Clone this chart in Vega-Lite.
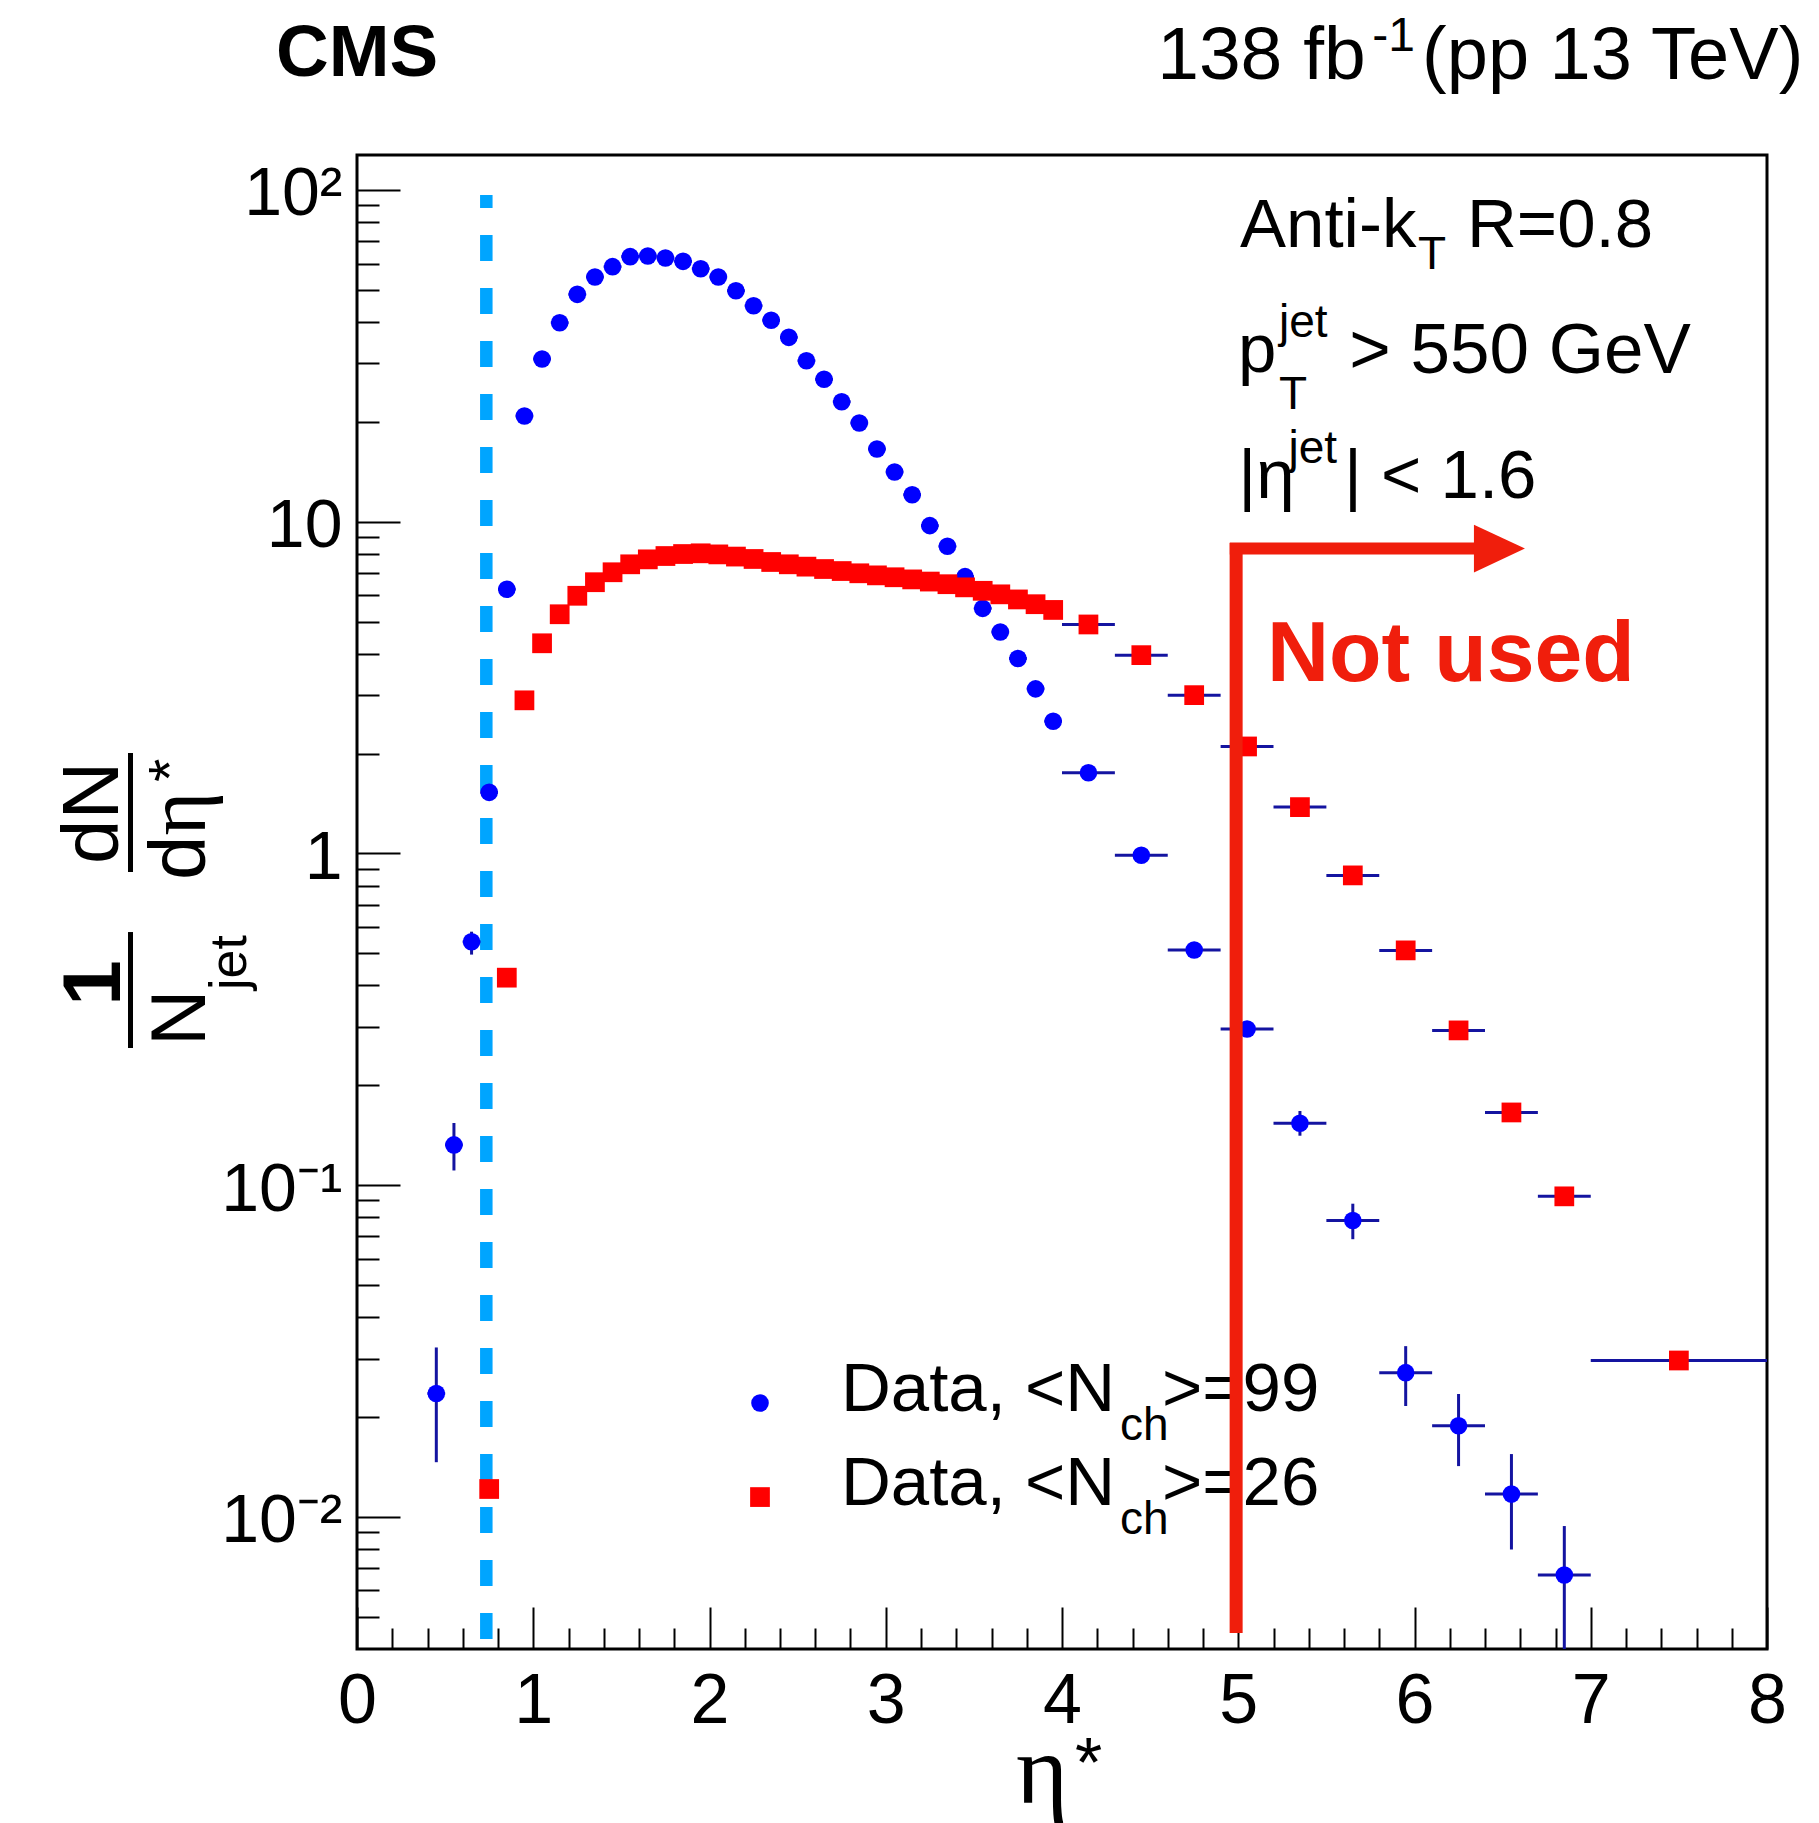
{
  "$schema": "https://vega.github.io/schema/vega-lite/v6.json",
  "width": 1410,
  "height": 1494,
  "autosize": {"type": "none"},
  "padding": {"left": 357, "top": 155, "right": 52, "bottom": 174},
  "background": "white",
  "config": {
    "view": {"stroke": "black", "strokeWidth": 3},
    "axis": {"domain": false, "grid": false, "tickColor": "black", "tickWidth": 2, "labelColor": "black", "labelFont": "Liberation Sans"}
  },
  "datasets": {
    "pts": [
      {"s": "n99", "x": 0.45, "xlo": 0.4, "xhi": 0.5, "y": 0.02355, "ylo": 0.01461, "yhi": 0.0324},
      {"s": "n99", "x": 0.55, "xlo": 0.5, "xhi": 0.6, "y": 0.1322, "ylo": 0.1107, "yhi": 0.1539},
      {"s": "n99", "x": 0.65, "xlo": 0.6, "xhi": 0.7, "y": 0.5415, "ylo": 0.4954, "yhi": 0.5808},
      {"s": "n99", "x": 0.75, "xlo": 0.7, "xhi": 0.8, "y": 1.528},
      {"s": "n99", "x": 0.85, "xlo": 0.8, "xhi": 0.9, "y": 6.26},
      {"s": "n99", "x": 0.95, "xlo": 0.9, "xhi": 1.0, "y": 20.83},
      {"s": "n99", "x": 1.05, "xlo": 1.0, "xhi": 1.1, "y": 30.94},
      {"s": "n99", "x": 1.15, "xlo": 1.1, "xhi": 1.2, "y": 39.81},
      {"s": "n99", "x": 1.25, "xlo": 1.2, "xhi": 1.3, "y": 48.47},
      {"s": "n99", "x": 1.35, "xlo": 1.3, "xhi": 1.4, "y": 54.66},
      {"s": "n99", "x": 1.45, "xlo": 1.4, "xhi": 1.5, "y": 58.73},
      {"s": "n99", "x": 1.55, "xlo": 1.5, "xhi": 1.6, "y": 62.95},
      {"s": "n99", "x": 1.65, "xlo": 1.6, "xhi": 1.7, "y": 63.24},
      {"s": "n99", "x": 1.75, "xlo": 1.7, "xhi": 1.8, "y": 62.37},
      {"s": "n99", "x": 1.85, "xlo": 1.8, "xhi": 1.9, "y": 60.95},
      {"s": "n99", "x": 1.95, "xlo": 1.9, "xhi": 2.0, "y": 57.91},
      {"s": "n99", "x": 2.05, "xlo": 2.0, "xhi": 2.1, "y": 54.66},
      {"s": "n99", "x": 2.15, "xlo": 2.1, "xhi": 2.2, "y": 49.7},
      {"s": "n99", "x": 2.25, "xlo": 2.2, "xhi": 2.3, "y": 44.78},
      {"s": "n99", "x": 2.35, "xlo": 2.3, "xhi": 2.4, "y": 40.47},
      {"s": "n99", "x": 2.45, "xlo": 2.4, "xhi": 2.5, "y": 35.96},
      {"s": "n99", "x": 2.55, "xlo": 2.5, "xhi": 2.6, "y": 30.58},
      {"s": "n99", "x": 2.65, "xlo": 2.6, "xhi": 2.7, "y": 26.87},
      {"s": "n99", "x": 2.75, "xlo": 2.7, "xhi": 2.8, "y": 23.0},
      {"s": "n99", "x": 2.85, "xlo": 2.8, "xhi": 2.9, "y": 19.84},
      {"s": "n99", "x": 2.95, "xlo": 2.9, "xhi": 3.0, "y": 16.56},
      {"s": "n99", "x": 3.05, "xlo": 3.0, "xhi": 3.1, "y": 14.12},
      {"s": "n99", "x": 3.15, "xlo": 3.1, "xhi": 3.2, "y": 12.06},
      {"s": "n99", "x": 3.25, "xlo": 3.2, "xhi": 3.3, "y": 9.73},
      {"s": "n99", "x": 3.35, "xlo": 3.3, "xhi": 3.4, "y": 8.43},
      {"s": "n99", "x": 3.45, "xlo": 3.4, "xhi": 3.5, "y": 6.83},
      {"s": "n99", "x": 3.55, "xlo": 3.5, "xhi": 3.6, "y": 5.48},
      {"s": "n99", "x": 3.65, "xlo": 3.6, "xhi": 3.7, "y": 4.65},
      {"s": "n99", "x": 3.75, "xlo": 3.7, "xhi": 3.8, "y": 3.87},
      {"s": "n99", "x": 3.85, "xlo": 3.8, "xhi": 3.9, "y": 3.134},
      {"s": "n99", "x": 3.95, "xlo": 3.9, "xhi": 4.0, "y": 2.504},
      {"s": "n99", "x": 4.15, "xlo": 4.0, "xhi": 4.3, "y": 1.751},
      {"s": "n99", "x": 4.45, "xlo": 4.3, "xhi": 4.6, "y": 0.987},
      {"s": "n99", "x": 4.75, "xlo": 4.6, "xhi": 4.9, "y": 0.5115},
      {"s": "n99", "x": 5.05, "xlo": 4.9, "xhi": 5.2, "y": 0.2955},
      {"s": "n99", "x": 5.35, "xlo": 5.2, "xhi": 5.5, "y": 0.1537, "ylo": 0.1409, "yhi": 0.1673},
      {"s": "n99", "x": 5.65, "xlo": 5.5, "xhi": 5.8, "y": 0.0782, "ylo": 0.0687, "yhi": 0.0879},
      {"s": "n99", "x": 5.95, "xlo": 5.8, "xhi": 6.1, "y": 0.0272, "ylo": 0.02158, "yhi": 0.0327},
      {"s": "n99", "x": 6.25, "xlo": 6.1, "xhi": 6.4, "y": 0.01882, "ylo": 0.01422, "yhi": 0.02346},
      {"s": "n99", "x": 6.55, "xlo": 6.4, "xhi": 6.7, "y": 0.01171, "ylo": 0.00797, "yhi": 0.01546},
      {"s": "n99", "x": 6.85, "xlo": 6.7, "xhi": 7.0, "y": 0.006678, "ylo": 0.003, "yhi": 0.00938},
      {"s": "n26", "x": 0.75, "xlo": 0.7, "xhi": 0.8, "y": 0.01213},
      {"s": "n26", "x": 0.85, "xlo": 0.8, "xhi": 0.9, "y": 0.4221},
      {"s": "n26", "x": 0.95, "xlo": 0.9, "xhi": 1.0, "y": 2.894},
      {"s": "n26", "x": 1.05, "xlo": 1.0, "xhi": 1.1, "y": 4.3},
      {"s": "n26", "x": 1.15, "xlo": 1.1, "xhi": 1.2, "y": 5.26},
      {"s": "n26", "x": 1.25, "xlo": 1.2, "xhi": 1.3, "y": 5.98},
      {"s": "n26", "x": 1.35, "xlo": 1.3, "xhi": 1.4, "y": 6.57},
      {"s": "n26", "x": 1.45, "xlo": 1.4, "xhi": 1.5, "y": 7.04},
      {"s": "n26", "x": 1.55, "xlo": 1.5, "xhi": 1.6, "y": 7.44},
      {"s": "n26", "x": 1.65, "xlo": 1.6, "xhi": 1.7, "y": 7.7},
      {"s": "n26", "x": 1.75, "xlo": 1.7, "xhi": 1.8, "y": 7.88},
      {"s": "n26", "x": 1.85, "xlo": 1.8, "xhi": 1.9, "y": 7.99},
      {"s": "n26", "x": 1.95, "xlo": 1.9, "xhi": 2.0, "y": 8.03},
      {"s": "n26", "x": 2.05, "xlo": 2.0, "xhi": 2.1, "y": 7.97},
      {"s": "n26", "x": 2.15, "xlo": 2.1, "xhi": 2.2, "y": 7.85},
      {"s": "n26", "x": 2.25, "xlo": 2.2, "xhi": 2.3, "y": 7.72},
      {"s": "n26", "x": 2.35, "xlo": 2.3, "xhi": 2.4, "y": 7.56},
      {"s": "n26", "x": 2.45, "xlo": 2.4, "xhi": 2.5, "y": 7.44},
      {"s": "n26", "x": 2.55, "xlo": 2.5, "xhi": 2.6, "y": 7.32},
      {"s": "n26", "x": 2.65, "xlo": 2.6, "xhi": 2.7, "y": 7.2},
      {"s": "n26", "x": 2.75, "xlo": 2.7, "xhi": 2.8, "y": 7.1},
      {"s": "n26", "x": 2.85, "xlo": 2.8, "xhi": 2.9, "y": 6.99},
      {"s": "n26", "x": 2.95, "xlo": 2.9, "xhi": 3.0, "y": 6.89},
      {"s": "n26", "x": 3.05, "xlo": 3.0, "xhi": 3.1, "y": 6.8},
      {"s": "n26", "x": 3.15, "xlo": 3.1, "xhi": 3.2, "y": 6.7},
      {"s": "n26", "x": 3.25, "xlo": 3.2, "xhi": 3.3, "y": 6.6},
      {"s": "n26", "x": 3.35, "xlo": 3.3, "xhi": 3.4, "y": 6.48},
      {"s": "n26", "x": 3.45, "xlo": 3.4, "xhi": 3.5, "y": 6.34},
      {"s": "n26", "x": 3.55, "xlo": 3.5, "xhi": 3.6, "y": 6.19},
      {"s": "n26", "x": 3.65, "xlo": 3.6, "xhi": 3.7, "y": 6.04},
      {"s": "n26", "x": 3.75, "xlo": 3.7, "xhi": 3.8, "y": 5.83},
      {"s": "n26", "x": 3.85, "xlo": 3.8, "xhi": 3.9, "y": 5.64},
      {"s": "n26", "x": 3.95, "xlo": 3.9, "xhi": 4.0, "y": 5.42},
      {"s": "n26", "x": 4.15, "xlo": 4.0, "xhi": 4.3, "y": 4.9},
      {"s": "n26", "x": 4.45, "xlo": 4.3, "xhi": 4.6, "y": 3.96},
      {"s": "n26", "x": 4.75, "xlo": 4.6, "xhi": 4.9, "y": 3.0},
      {"s": "n26", "x": 5.05, "xlo": 4.9, "xhi": 5.2, "y": 2.101},
      {"s": "n26", "x": 5.35, "xlo": 5.2, "xhi": 5.5, "y": 1.379},
      {"s": "n26", "x": 5.65, "xlo": 5.5, "xhi": 5.8, "y": 0.8585},
      {"s": "n26", "x": 5.95, "xlo": 5.8, "xhi": 6.1, "y": 0.5101},
      {"s": "n26", "x": 6.25, "xlo": 6.1, "xhi": 6.4, "y": 0.2927},
      {"s": "n26", "x": 6.55, "xlo": 6.4, "xhi": 6.7, "y": 0.1656},
      {"s": "n26", "x": 6.85, "xlo": 6.7, "xhi": 7.0, "y": 0.0925},
      {"s": "n26", "x": 7.5, "xlo": 7.0, "xhi": 8.0, "y": 0.0296}
    ]
  },
  "resolve": {"axis": {"x": "independent", "y": "independent"}},
  "layer": [
    {
      "data": {"values": [{}]},
      "mark": {"type": "rule", "color": "#00a5ff", "strokeWidth": 12.5, "strokeDash": [26, 27]},
      "encoding": {
        "x": {"datum": 0.7337, "type": "quantitative", "scale": {"domain": [0, 8], "nice": false, "zero": false}, "axis": null},
        "y": {"datum": 0.00428, "type": "quantitative", "scale": {"type": "log", "domain": [0.003995, 127.5], "nice": false}, "axis": null},
        "y2": {"datum": 96.6}
      }
    },
    {
      "data": {"name": "pts"},
      "mark": {"type": "rule", "color": "#1414a0", "strokeWidth": 3, "clip": true},
      "encoding": {
        "x": {"field": "xlo", "type": "quantitative", "axis": {"orient": "bottom", "title": null, "labels": false, "domain": false, "tickSize": -21, "values": [0.2,0.4,0.6,0.8,1.2,1.4,1.6,1.8,2.2,2.4,2.6,2.8,3.2,3.4,3.6,3.8,4.2,4.4,4.6,4.8,5.2,5.4,5.6,5.8,6.2,6.4,6.6,6.8,7.2,7.4,7.6,7.8]}},
        "x2": {"field": "xhi"},
        "y": {"field": "y", "type": "quantitative", "axis": {"orient": "left", "title": null, "labels": false, "domain": false, "tickSize": -22, "values": [0.005,0.006,0.007,0.008,0.009,0.02,0.03,0.04,0.05,0.06,0.07,0.08,0.09,0.2,0.3,0.4,0.5,0.6,0.7,0.8,0.9,2,3,4,5,6,7,8,9,20,30,40,50,60,70,80,90]}}
      }
    },
    {
      "data": {"name": "pts"},
      "transform": [{"filter": "isValid(datum.ylo)"}],
      "mark": {"type": "rule", "color": "#1414a0", "strokeWidth": 3, "clip": true},
      "encoding": {
        "x": {"field": "x", "type": "quantitative", "axis": null},
        "y": {"field": "ylo", "type": "quantitative", "axis": null},
        "y2": {"field": "yhi"}
      }
    },
    {
      "data": {"name": "pts"},
      "transform": [{"filter": "datum.s == 'n99'"}],
      "mark": {"type": "point", "shape": "circle", "filled": true, "size": 310, "color": "#0000ff", "opacity": 1, "clip": true},
      "encoding": {
        "x": {"field": "x", "type": "quantitative", "axis": {"orient": "bottom", "title": null, "ticks": false, "domain": false, "values": [0,1,2,3,4,5,6,7,8], "labelFontSize": 70, "labelPadding": 18, "labelFlush": false, "labelOverlap": false, "labelBound": false}},
        "y": {"field": "y", "type": "quantitative", "axis": {"orient": "left", "title": null, "ticks": false, "domain": false, "values": [0.01, 0.1, 1, 10, 100], "labelFontSize": 68, "labelPadding": 15, "labelOffset": 5, "labelOverlap": false, "labelBound": false, "labelFlush": false, "labelExpr": "datum.value >= 99 ? '10²' : datum.value >= 9 ? '10' : datum.value >= 0.9 ? '1' : datum.value >= 0.09 ? '10⁻¹' : '10⁻²'"}}
      }
    },
    {
      "data": {"name": "pts"},
      "transform": [{"filter": "datum.s == 'n26'"}],
      "mark": {"type": "point", "shape": "square", "filled": true, "size": 390, "color": "#ff0000", "opacity": 1, "clip": true},
      "encoding": {
        "x": {"field": "x", "type": "quantitative", "axis": {"orient": "bottom", "title": null, "labels": false, "domain": false, "tickSize": -42, "values": [0,1,2,3,4,5,6,7,8]}},
        "y": {"field": "y", "type": "quantitative", "axis": {"orient": "left", "title": null, "labels": false, "domain": false, "tickSize": -43, "values": [0.01, 0.1, 1, 10, 100]}}
      }
    },
    {
      "data": {"values": [{}]},
      "mark": {"type": "point", "shape": "circle", "filled": true, "size": 310, "color": "#0000ff", "opacity": 1},
      "encoding": {"x": {"datum": 2.2865, "type": "quantitative", "axis": null}, "y": {"datum": 0.02203, "type": "quantitative", "axis": null}}
    },
    {
      "data": {"values": [{}]},
      "mark": {"type": "point", "shape": "square", "filled": true, "size": 390, "color": "#ff0000", "opacity": 1},
      "encoding": {"x": {"datum": 2.2865, "type": "quantitative", "axis": null}, "y": {"datum": 0.01147, "type": "quantitative", "axis": null}}
    },
    {
      "data": {"values": [{}]},
      "mark": {"type": "text", "text": "Data, <N", "font": "Liberation Sans", "fontSize": 69, "align": "left", "baseline": "alphabetic", "color": "black"},
      "encoding": {"x": {"datum": 2.746, "type": "quantitative", "axis": null}, "y": {"datum": 0.02084, "type": "quantitative", "axis": null}}
    },
    {
      "data": {"values": [{}]},
      "mark": {"type": "text", "text": "ch", "font": "Liberation Sans", "fontSize": 46, "align": "left", "baseline": "alphabetic", "color": "black"},
      "encoding": {"x": {"datum": 4.329, "type": "quantitative", "axis": null}, "y": {"datum": 0.01704, "type": "quantitative", "axis": null}}
    },
    {
      "data": {"values": [{}]},
      "mark": {"type": "text", "text": ">=99", "font": "Liberation Sans", "fontSize": 69, "align": "left", "baseline": "alphabetic", "color": "black"},
      "encoding": {"x": {"datum": 4.567, "type": "quantitative", "axis": null}, "y": {"datum": 0.02084, "type": "quantitative", "axis": null}}
    },
    {
      "data": {"values": [{}]},
      "mark": {"type": "text", "text": "Data, <N", "font": "Liberation Sans", "fontSize": 69, "align": "left", "baseline": "alphabetic", "color": "black"},
      "encoding": {"x": {"datum": 2.746, "type": "quantitative", "axis": null}, "y": {"datum": 0.01085, "type": "quantitative", "axis": null}}
    },
    {
      "data": {"values": [{}]},
      "mark": {"type": "text", "text": "ch", "font": "Liberation Sans", "fontSize": 46, "align": "left", "baseline": "alphabetic", "color": "black"},
      "encoding": {"x": {"datum": 4.329, "type": "quantitative", "axis": null}, "y": {"datum": 0.008872, "type": "quantitative", "axis": null}}
    },
    {
      "data": {"values": [{}]},
      "mark": {"type": "text", "text": ">=26", "font": "Liberation Sans", "fontSize": 69, "align": "left", "baseline": "alphabetic", "color": "black"},
      "encoding": {"x": {"datum": 4.567, "type": "quantitative", "axis": null}, "y": {"datum": 0.01085, "type": "quantitative", "axis": null}}
    },
    {
      "data": {"values": [{}]},
      "mark": {"type": "text", "text": "Anti-k", "font": "Liberation Sans", "fontSize": 69, "align": "left", "baseline": "alphabetic", "color": "black"},
      "encoding": {"x": {"datum": 5.01, "type": "quantitative", "axis": null}, "y": {"datum": 67.3, "type": "quantitative", "axis": null}}
    },
    {
      "data": {"values": [{}]},
      "mark": {"type": "text", "text": "T", "font": "Liberation Sans", "fontSize": 46, "align": "left", "baseline": "alphabetic", "color": "black"},
      "encoding": {"x": {"datum": 6.02, "type": "quantitative", "axis": null}, "y": {"datum": 57.8, "type": "quantitative", "axis": null}}
    },
    {
      "data": {"values": [{}]},
      "mark": {"type": "text", "text": "R=0.8", "font": "Liberation Sans", "fontSize": 69, "align": "left", "baseline": "alphabetic", "color": "black"},
      "encoding": {"x": {"datum": 6.298, "type": "quantitative", "axis": null}, "y": {"datum": 67.3, "type": "quantitative", "axis": null}}
    },
    {
      "data": {"values": [{}]},
      "mark": {"type": "text", "text": "p", "font": "Liberation Sans", "fontSize": 69, "align": "left", "baseline": "alphabetic", "color": "black"},
      "encoding": {"x": {"datum": 4.999, "type": "quantitative", "axis": null}, "y": {"datum": 28.27, "type": "quantitative", "axis": null}}
    },
    {
      "data": {"values": [{}]},
      "mark": {"type": "text", "text": "jet", "font": "Liberation Sans", "fontSize": 46, "align": "left", "baseline": "alphabetic", "color": "black"},
      "encoding": {"x": {"datum": 5.231, "type": "quantitative", "axis": null}, "y": {"datum": 36.06, "type": "quantitative", "axis": null}}
    },
    {
      "data": {"values": [{}]},
      "mark": {"type": "text", "text": "T", "font": "Liberation Sans", "fontSize": 46, "align": "left", "baseline": "alphabetic", "color": "black"},
      "encoding": {"x": {"datum": 5.231, "type": "quantitative", "axis": null}, "y": {"datum": 21.87, "type": "quantitative", "axis": null}}
    },
    {
      "data": {"values": [{}]},
      "mark": {"type": "text", "text": "> 550 GeV", "font": "Liberation Sans", "fontSize": 71, "align": "left", "baseline": "alphabetic", "color": "black"},
      "encoding": {"x": {"datum": 5.63, "type": "quantitative", "axis": null}, "y": {"datum": 28.07, "type": "quantitative", "axis": null}}
    },
    {
      "data": {"values": [{}]},
      "mark": {"type": "text", "text": "|η", "font": "Liberation Sans", "fontSize": 69, "align": "left", "baseline": "alphabetic", "color": "black"},
      "encoding": {"x": {"datum": 5.0, "type": "quantitative", "axis": null}, "y": {"datum": 11.79, "type": "quantitative", "axis": null}}
    },
    {
      "data": {"values": [{}]},
      "mark": {"type": "text", "text": "jet", "font": "Liberation Sans", "fontSize": 46, "align": "left", "baseline": "alphabetic", "color": "black"},
      "encoding": {"x": {"datum": 5.285, "type": "quantitative", "axis": null}, "y": {"datum": 15.03, "type": "quantitative", "axis": null}}
    },
    {
      "data": {"values": [{}]},
      "mark": {"type": "text", "text": "| < 1.6", "font": "Liberation Sans", "fontSize": 69, "align": "left", "baseline": "alphabetic", "color": "black"},
      "encoding": {"x": {"datum": 5.6, "type": "quantitative", "axis": null}, "y": {"datum": 11.79, "type": "quantitative", "axis": null}}
    },
    {
      "data": {"values": [{}]},
      "mark": {"type": "text", "text": "Not used", "font": "Liberation Sans", "fontWeight": "bold", "fontSize": 86, "align": "left", "baseline": "alphabetic", "color": "#f01e0c"},
      "encoding": {"x": {"datum": 5.163, "type": "quantitative", "axis": null}, "y": {"datum": 3.309, "type": "quantitative", "axis": null}}
    },
    {
      "data": {"values": [{}]},
      "mark": {"type": "rule", "color": "#f01e0c", "strokeWidth": 13},
      "encoding": {"x": {"datum": 4.988, "type": "quantitative", "axis": null}, "y": {"datum": 0.004462, "type": "quantitative", "axis": null}, "y2": {"datum": 8.627}}
    },
    {
      "data": {"values": [{}]},
      "mark": {"type": "rule", "color": "#f01e0c", "strokeWidth": 12},
      "encoding": {"x": {"datum": 4.952, "type": "quantitative", "axis": null}, "x2": {"datum": 6.38}, "y": {"datum": 8.296, "type": "quantitative", "axis": null}}
    },
    {
      "data": {"values": [{}]},
      "mark": {"type": "point", "shape": "M-1,-0.94L1,0L-1,0.94Z", "filled": true, "size": 2601, "color": "#f01e0c", "opacity": 1},
      "encoding": {"x": {"datum": 6.482, "type": "quantitative", "axis": null}, "y": {"datum": 8.296, "type": "quantitative", "axis": null}}
    },
    {
      "data": {"values": [{}]},
      "mark": {"type": "text", "text": "CMS", "font": "Liberation Sans", "fontWeight": "bold", "fontSize": 73, "align": "left", "baseline": "alphabetic", "color": "black"},
      "encoding": {"x": {"datum": -0.46, "type": "quantitative", "axis": null}, "y": {"datum": 221.4, "type": "quantitative", "axis": null}}
    },
    {
      "data": {"values": [{}]},
      "mark": {"type": "text", "text": "138 fb", "font": "Liberation Sans", "fontSize": 75, "align": "left", "baseline": "alphabetic", "color": "black"},
      "encoding": {"x": {"datum": 4.54, "type": "quantitative", "axis": null}, "y": {"datum": 216.1, "type": "quantitative", "axis": null}}
    },
    {
      "data": {"values": [{}]},
      "mark": {"type": "text", "text": "-1", "font": "Liberation Sans", "fontSize": 48, "align": "left", "baseline": "alphabetic", "color": "black"},
      "encoding": {"x": {"datum": 5.76, "type": "quantitative", "axis": null}, "y": {"datum": 262.4, "type": "quantitative", "axis": null}}
    },
    {
      "data": {"values": [{}]},
      "mark": {"type": "text", "text": "(pp 13 TeV)", "font": "Liberation Sans", "fontSize": 74, "align": "left", "baseline": "alphabetic", "color": "black"},
      "encoding": {"x": {"datum": 6.043, "type": "quantitative", "axis": null}, "y": {"datum": 216.1, "type": "quantitative", "axis": null}}
    },
    {
      "data": {"values": [{}]},
      "mark": {"type": "text", "text": "η", "font": "Liberation Serif", "fontSize": 100, "align": "left", "baseline": "alphabetic", "color": "black"},
      "encoding": {"x": {"datum": 3.739, "type": "quantitative", "axis": null}, "y": {"datum": 0.001371, "type": "quantitative", "axis": null}}
    },
    {
      "data": {"values": [{}]},
      "mark": {"type": "text", "text": "*", "font": "Liberation Sans", "fontSize": 70, "align": "left", "baseline": "alphabetic", "color": "black"},
      "encoding": {"x": {"datum": 4.074, "type": "quantitative", "axis": null}, "y": {"datum": 0.001532, "type": "quantitative", "axis": null}}
    },
    {
      "data": {"values": [{}]},
      "mark": {"type": "text", "text": "dN", "angle": -90, "font": "Liberation Sans", "fontSize": 80, "align": "center", "baseline": "alphabetic", "color": "black"},
      "encoding": {"x": {"datum": -1.356, "type": "quantitative", "axis": null}, "y": {"datum": 1.324, "type": "quantitative", "axis": null}}
    },
    {
      "data": {"values": [{}]},
      "mark": {"type": "rule", "color": "black", "strokeWidth": 5},
      "encoding": {"x": {"datum": -1.285, "type": "quantitative", "axis": null}, "y": {"datum": 2.008, "type": "quantitative", "axis": null}, "y2": {"datum": 0.8788}}
    },
    {
      "data": {"values": [{}]},
      "mark": {"type": "text", "text": "d", "angle": -90, "font": "Liberation Sans", "fontSize": 80, "align": "left", "baseline": "alphabetic", "color": "black"},
      "encoding": {"x": {"datum": -0.8624, "type": "quantitative", "axis": null}, "y": {"datum": 0.8314, "type": "quantitative", "axis": null}}
    },
    {
      "data": {"values": [{}]},
      "mark": {"type": "text", "text": "η", "angle": -90, "font": "Liberation Serif", "fontSize": 84, "align": "left", "baseline": "alphabetic", "color": "black"},
      "encoding": {"x": {"datum": -0.8624, "type": "quantitative", "axis": null}, "y": {"datum": 1.132, "type": "quantitative", "axis": null}}
    },
    {
      "data": {"values": [{}]},
      "mark": {"type": "text", "text": "*", "angle": -90, "font": "Liberation Sans", "fontSize": 60, "align": "left", "baseline": "alphabetic", "color": "black"},
      "encoding": {"x": {"datum": -0.9475, "type": "quantitative", "axis": null}, "y": {"datum": 1.641, "type": "quantitative", "axis": null}}
    },
    {
      "data": {"values": [{}]},
      "mark": {"type": "text", "text": "1", "angle": -90, "font": "Liberation Sans", "fontWeight": "bold", "fontSize": 82, "align": "center", "baseline": "alphabetic", "color": "black"},
      "encoding": {"x": {"datum": -1.3447, "type": "quantitative", "axis": null}, "y": {"datum": 0.4067, "type": "quantitative", "axis": null}}
    },
    {
      "data": {"values": [{}]},
      "mark": {"type": "rule", "color": "black", "strokeWidth": 5},
      "encoding": {"x": {"datum": -1.285, "type": "quantitative", "axis": null}, "y": {"datum": 0.5794, "type": "quantitative", "axis": null}, "y2": {"datum": 0.259}}
    },
    {
      "data": {"values": [{}]},
      "mark": {"type": "text", "text": "N", "angle": -90, "font": "Liberation Sans", "fontSize": 78, "align": "left", "baseline": "alphabetic", "color": "black"},
      "encoding": {"x": {"datum": -0.8624, "type": "quantitative", "axis": null}, "y": {"datum": 0.2626, "type": "quantitative", "axis": null}}
    },
    {
      "data": {"values": [{}]},
      "mark": {"type": "text", "text": "jet", "angle": -90, "font": "Liberation Sans", "fontSize": 52, "align": "left", "baseline": "alphabetic", "color": "black"},
      "encoding": {"x": {"datum": -0.6298, "type": "quantitative", "axis": null}, "y": {"datum": 0.3875, "type": "quantitative", "axis": null}}
    }
  ]
}
